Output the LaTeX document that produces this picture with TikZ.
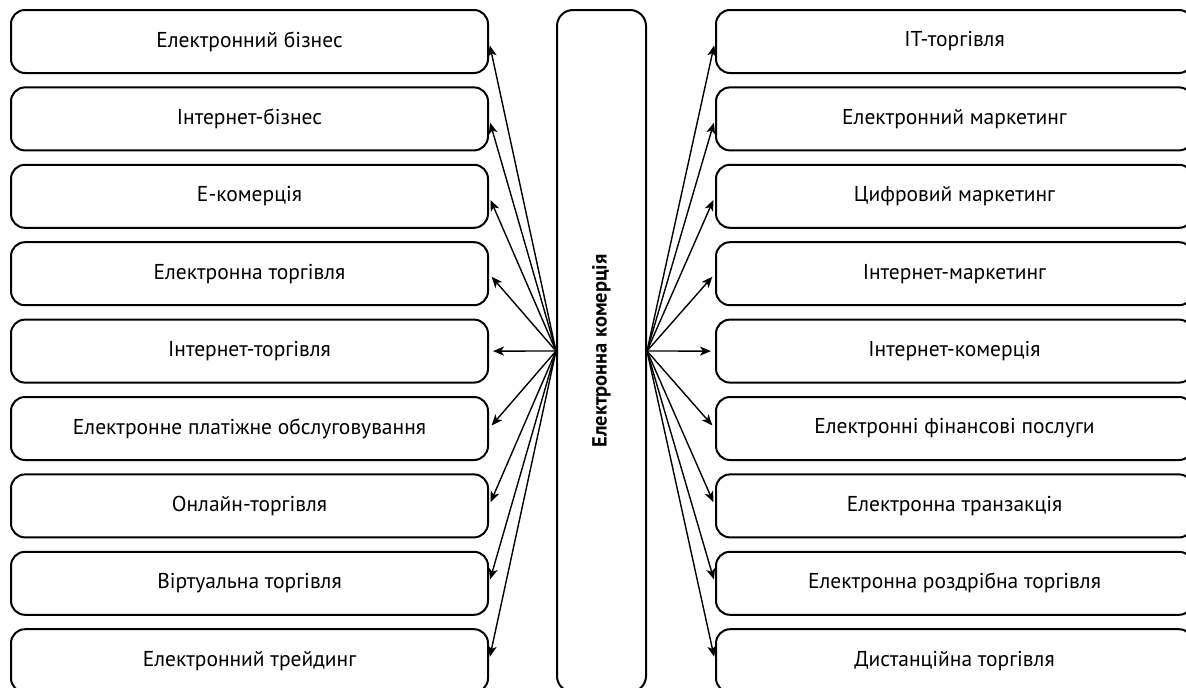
\documentclass[tikz,border=0pt]{standalone}
\usepackage{fontspec}
\setmainfont{PT Sans}
\usetikzlibrary{arrows.meta}

\begin{document}
\begin{tikzpicture}[x=1pt, y=-1pt, line join=round,
  item/.style={draw, line width=2pt, rounded corners=14pt, minimum width=477pt,
    minimum height=63pt, font=\fontsize{21.5}{25}\selectfont},
  link/.style={line width=1.4pt, -{Stealth[length=11pt, width=9pt, inset=3pt]},
    shorten >=4pt}]%
  \useasboundingbox (0, 0) rectangle (1186, 688);
  \clip (0, 0) rectangle (1186, 688);
  \node[item, rounded corners=16pt, minimum width=89pt, minimum height=682pt]
    (core) at (601.5, 351) {};
  \node[rotate=90, font=\bfseries\fontsize{20.5}{24}\selectfont]
    (title) at (core.center) {Електронна комерція};
  \foreach \txt [count=\i] in {Електронний бізнес, Інтернет-бізнес, Е-комерція,
      Електронна торгівля, Інтернет-торгівля, Електронне платіжне обслуговування,
      Онлайн-торгівля, Віртуальна торгівля, Електронний трейдинг} {
    \node[item] (l\i) at (249.5, {41.5+(\i-1)*77.4}) {\txt};
    \draw[link] (core.west) -- (l\i.east);
  }
  \foreach \txt [count=\i] in {IT-торгівля, Електронний маркетинг, Цифровий маркетинг,
      Інтернет-маркетинг, Інтернет-комерція, Електронні фінансові послуги,
      Електронна транзакція, Електронна роздрібна торгівля, Дистанційна торгівля} {
    \node[item] (r\i) at (954.5, {41.5+(\i-1)*77.4}) {\txt};
    \draw[link] (core.east) -- (r\i.west);
  }
\end{tikzpicture}
\end{document}
